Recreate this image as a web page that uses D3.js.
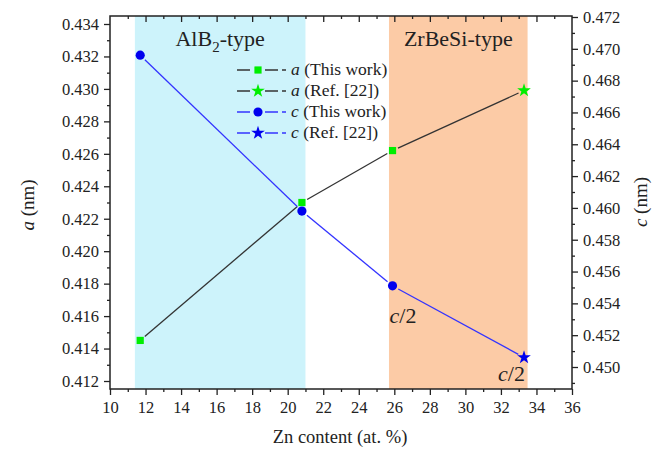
<!DOCTYPE html>
<html><head><meta charset="utf-8">
<script src="https://cdn.jsdelivr.net/npm/d3@7"></script>
<style>
body{margin:0;background:#fff}
svg text, svg tspan{font-family:"Liberation Serif", "Times New Roman", serif !important;}
</style>
</head><body>
<svg id="chart" width="666" height="456" font-family="Liberation Serif"></svg>
<script>
// Data
const znThis = [11.7, 20.8, 25.9];
const znRef = [33.3];
const aThis = [0.4145, 0.4230, 0.4262];
const aRef = [0.4299];
const cThis = [0.4696, 0.4598, 0.4551];
const cRef = [0.4506];
const bands = [
  {label: "AlB2", x0: 11.4, x1: 21.0, color: "#cdf3fb"},
  {label: "ZrBeSi-type", x0: 25.7, x1: 33.5, color: "#fccba6"}
];
const xTicks = d3.range(10, 37, 2);
const aTicks = d3.range(0.412, 0.4345, 0.002);
const cTicks = d3.range(0.450, 0.4725, 0.002);
const legendItems = [
  {sym: "square", color: "#00ee00", line: "#333", v: "a", rest: " (This work)"},
  {sym: "star", color: "#00ee00", line: "#333", v: "a", rest: " (Ref. [22])"},
  {sym: "circle", color: "#0000ee", line: "#3333ff", v: "c", rest: " (This work)"},
  {sym: "star", color: "#0000ee", line: "#3333ff", v: "c", rest: " (Ref. [22])"}
];

const L = 110, R = 572, T = 16, B = 389;
const svg = d3.select("#chart");
const x = d3.scaleLinear().domain([10, 36]).range([L, R]);
const yA = d3.scaleLinear().domain([0.412 - 8/16.23*0.001, 0.434 + 8/16.23*0.001]).range([B, T]);
const yC = d3.scaleLinear().domain([0.450 - 22/15.91*0.001, 0.472 + 1/15.91*0.001]).range([B, T]);

function txt(sel, size) {
  return sel.attr("font-family", "Liberation Serif").attr("font-size", size).attr("fill", "#222");
}

// bands
svg.selectAll("rect.band").data(bands).enter().append("rect")
  .attr("x", d => x(d.x0)).attr("width", d => x(d.x1) - x(d.x0))
  .attr("y", T).attr("height", B - T).attr("fill", d => d.color);

// band titles
const t1 = txt(svg.append("text").attr("x", x(16.2)).attr("y", 46).attr("text-anchor", "middle"), 22);
t1.append("tspan").text("AlB");
t1.append("tspan").attr("font-size", 15).attr("dy", 6).text("2");
t1.append("tspan").attr("dy", -6).text("-type");
txt(svg.append("text").attr("x", x(29.6)).attr("y", 46).attr("text-anchor", "middle"), 22).text("ZrBeSi-type");

// connecting lines with small gaps at markers
const aAll = znThis.map((z, i) => [z, aThis[i]]).concat(znRef.map((z, i) => [z, aRef[i]]));
const cAll = znThis.map((z, i) => [z, cThis[i]]).concat(znRef.map((z, i) => [z, cRef[i]]));
function segs(pts, ys, color, gap) {
  const p = pts.map(d => [x(d[0]), ys(d[1])]);
  const s = d3.pairs(p).map(([a, b]) => {
    const dx = b[0] - a[0], dy = b[1] - a[1], len = Math.hypot(dx, dy);
    const ux = dx / len, uy = dy / len;
    return [a[0] + ux * gap, a[1] + uy * gap, b[0] - ux * gap, b[1] - uy * gap];
  });
  svg.selectAll(null).data(s).enter().append("line")
    .attr("x1", d => d[0]).attr("y1", d => d[1]).attr("x2", d => d[2]).attr("y2", d => d[3])
    .attr("stroke", color).attr("stroke-width", 1.3);
}
segs(aAll, yA, "#333", 6);
segs(cAll, yC, "#3333ff", 6.5);

const sq = d3.symbol().type(d3.symbolSquare).size(52);
const circ = d3.symbol().type(d3.symbolCircle).size(66);
const star = d3.symbol().type(d3.symbolStar).size(58);
// markers
svg.selectAll("path.aT").data(znThis).enter().append("path")
  .attr("d", sq).attr("fill", "#00ee00")
  .attr("transform", (d, i) => `translate(${x(d)},${yA(aThis[i])})`);
svg.selectAll("path.aR").data(znRef).enter().append("path")
  .attr("d", star).attr("fill", "#00ee00")
  .attr("transform", (d, i) => `translate(${x(d)},${yA(aRef[i])})`);
svg.selectAll("path.cT").data(znThis).enter().append("path")
  .attr("d", circ).attr("fill", "#0000ee")
  .attr("transform", (d, i) => `translate(${x(d)},${yC(cThis[i])})`);
svg.selectAll("path.cR").data(znRef).enter().append("path")
  .attr("d", star).attr("fill", "#0000ee")
  .attr("transform", (d, i) => `translate(${x(d)},${yC(cRef[i])})`);

// c/2 annotations
function c2(px, py) {
  const t = txt(svg.append("text").attr("x", px).attr("y", py), 22);
  t.append("tspan").attr("font-style", "italic").text("c");
  t.append("tspan").text("/2");
}
c2(x(znThis[2]) - 3, yC(cThis[2]) + 37);
c2(x(znRef[0]) - 26, yC(cRef[0]) + 24);

// legend
legendItems.forEach((it, i) => {
  const ly = 70 + i * 21;
  const g = svg.append("g");
  g.append("line").attr("x1", 237).attr("x2", 250).attr("y1", ly).attr("y2", ly).attr("stroke", it.line).attr("stroke-width", 1.5);
  g.append("line").attr("x1", 265).attr("x2", 278).attr("y1", ly).attr("y2", ly).attr("stroke", it.line).attr("stroke-width", 1.5);
  g.append("line").attr("x1", 282).attr("x2", 286).attr("y1", ly).attr("y2", ly).attr("stroke", it.line).attr("stroke-width", 1.5);
  const sym = it.sym === "square" ? sq : it.sym === "circle" ? circ : star;
  g.append("path").attr("d", sym).attr("fill", it.color).attr("transform", `translate(258,${ly})`);
  const t = txt(g.append("text").attr("x", 291).attr("y", ly + 5), 17.5);
  t.append("tspan").attr("font-style", "italic").text(it.v);
  t.append("tspan").text(it.rest);
});

// frame
svg.append("rect").attr("x", L).attr("y", T).attr("width", R - L).attr("height", B - T)
  .attr("fill", "none").attr("stroke", "#222").attr("stroke-width", 1.5);

function styleAxis(g) {
  g.attr("font-family", "Liberation Serif").attr("font-size", 16.5);
  g.selectAll(".domain").remove();
  g.selectAll("line").attr("stroke", "#222").attr("stroke-width", 1.3);
  txt(g.selectAll("text"), 16.5);
}
// bottom axis
const gx = svg.append("g").attr("transform", `translate(0,${B})`)
  .call(d3.axisBottom(x).tickValues(xTicks).tickSize(6).tickPadding(6).tickFormat(d3.format("d")));
styleAxis(gx);
const gxm = svg.append("g").attr("transform", `translate(0,${B})`)
  .call(d3.axisBottom(x).tickValues(d3.range(11, 36, 2)).tickSize(3).tickFormat(""));
styleAxis(gxm);
// top inward ticks
const gxt = svg.append("g").attr("transform", `translate(0,${T})`)
  .call(d3.axisBottom(x).tickValues(xTicks.slice(1, -1)).tickSize(6).tickFormat(""));
styleAxis(gxt);
const gxtm = svg.append("g").attr("transform", `translate(0,${T})`)
  .call(d3.axisBottom(x).tickValues(d3.range(11, 36, 2)).tickSize(3).tickFormat(""));
styleAxis(gxtm);
// left axis
const gl = svg.append("g").attr("transform", `translate(${L},0)`)
  .call(d3.axisLeft(yA).tickValues(aTicks).tickSize(6).tickPadding(5).tickFormat(d3.format(".3f")));
styleAxis(gl);
const glm = svg.append("g").attr("transform", `translate(${L},0)`)
  .call(d3.axisLeft(yA).tickValues(d3.range(0.413, 0.4345, 0.002)).tickSize(3).tickFormat(""));
styleAxis(glm);
// right axis
const gr = svg.append("g").attr("transform", `translate(${R},0)`)
  .call(d3.axisRight(yC).tickValues(cTicks).tickSize(6).tickPadding(5).tickFormat(d3.format(".3f")));
styleAxis(gr);
const grm = svg.append("g").attr("transform", `translate(${R},0)`)
  .call(d3.axisRight(yC).tickValues(d3.range(0.449, 0.4715, 0.002)).tickSize(3).tickFormat(""));
styleAxis(grm);

// axis titles
txt(svg.append("text").attr("x", 340).attr("y", 443).attr("text-anchor", "middle"), 18.5).text("Zn content (at. %)");
const ta = txt(svg.append("text").attr("transform", "translate(34,205) rotate(-90)").attr("text-anchor", "middle"), 19);
ta.append("tspan").attr("font-style", "italic").text("a");
ta.append("tspan").text(" (nm)");
const tc = txt(svg.append("text").attr("transform", "translate(647,202) rotate(-90)").attr("text-anchor", "middle"), 19);
tc.append("tspan").attr("font-style", "italic").text("c");
tc.append("tspan").text(" (nm)");
</script>
</body></html>
